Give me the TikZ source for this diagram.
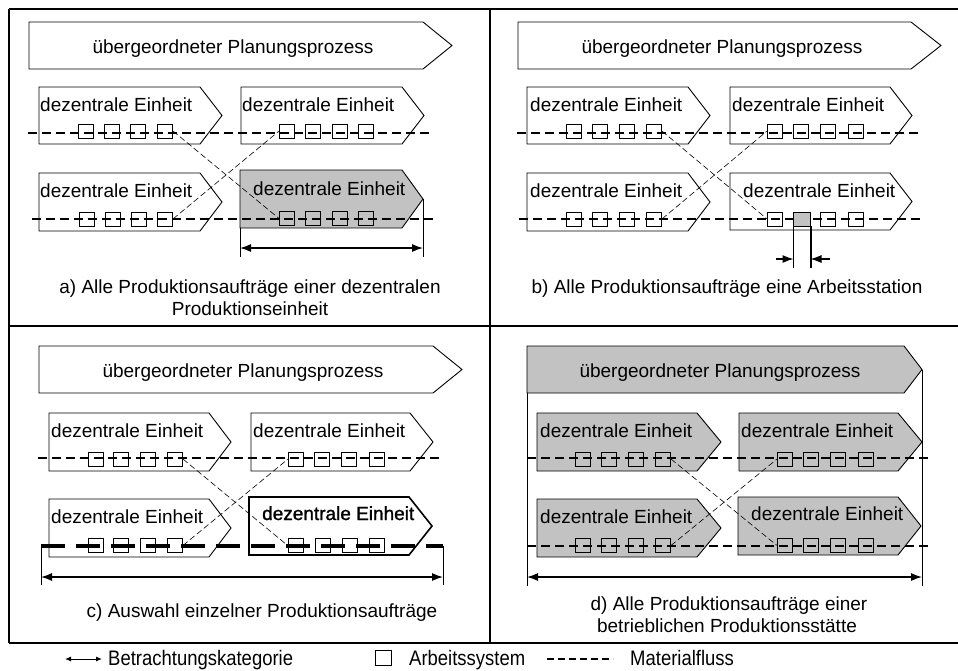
\documentclass[tikz,border=0pt]{standalone}
\usepackage{fontspec}
\setmainfont{Liberation Sans}
\newfontfamily\emphunit[FakeBold=1.3]{Liberation Sans}
\newfontfamily\legendfont[FakeStretch=0.88]{Liberation Sans}
\usetikzlibrary{arrows.meta}

\definecolor{unitgray}{gray}{0.76}

\tikzset{
  frameline/.style={line width=1.4pt},
  plate/.style={draw, line width=0.9pt, line join=miter},
  plateshaded/.style={plate, fill=unitgray},
  platebold/.style={plate, line width=1.6pt},
  sq/.style={draw, line width=0.9pt, minimum width=15pt, minimum height=14pt, inner sep=0pt, anchor=center},
  sqbold/.style={sq, line width=1.7pt},
  sqshaded/.style={sq, fill=unitgray, minimum width=17pt},
  mflow/.style={line width=1.3pt, dash pattern=on 9pt off 5pt},
  mflowbold/.style={line width=3.5pt, dash pattern=on 24pt off 11pt},
  xflow/.style={line width=0.6pt, dash pattern=on 6pt off 3pt},
  extline/.style={line width=0.9pt},
  dimarrow/.style={line width=1.2pt, {Latex[length=11pt,width=8pt]}-{Latex[length=11pt,width=8pt]}},
  tickarrow/.style={line width=1.2pt, -{Latex[length=11pt,width=8pt]}},
  lbl/.style={inner sep=0pt, anchor=base west, font=\fontsize{19pt}{22pt}\selectfont},
  ctr/.style={inner sep=0pt, anchor=base, font=\fontsize{19pt}{22pt}\selectfont},
  legendlbl/.style={inner sep=0pt, anchor=base west, font=\legendfont\fontsize{21pt}{24pt}\selectfont},
}

% process plate: style, left, top, body right, tip, bottom
\newcommand\plate[6]{\draw[#1] (#2,#3) -- (#4,#3) -- (#5,{(#3+#6)/2}) -- (#4,#6) -- (#2,#6) -- cycle;}

\begin{document}
\begin{tikzpicture}[x=1pt,y=-1pt]
\useasboundingbox (0,0) rectangle (958,670);

% ---------- frame ----------
\draw[frameline] (9,9) -- (962,9);
\draw[frameline] (9,9) -- (9,643);
\draw[frameline] (9,643) -- (962,643);
\draw[frameline] (490,9) -- (490,643);
\draw[frameline] (9,326) -- (962,326);

% ---------- a) ----------
\plate{plate}{29}{22}{423}{452}{69}
\node[ctr] (aTop) at (233,53) {übergeordneter Planungsprozess};
\plate{plate}{39}{87}{200}{222}{144}
\node[lbl] (aTLt) at (40,111) {dezentrale Einheit};
\plate{plate}{241}{87}{402}{424}{144}
\node[lbl] (aTRt) at (242,111) {dezentrale Einheit};
\plate{plate}{39}{173}{200}{222}{231}
\node[lbl] (aBLt) at (40,197) {dezentrale Einheit};
\plate{plateshaded}{240}{170}{402}{423}{228}
\node[lbl] (aBRt) at (253,195) {dezentrale Einheit};
\coordinate (aF1s) at (28,133); \coordinate (aF1e) at (432,133);
\coordinate (aF2s) at (32,219); \coordinate (aF2e) at (435,219);
\draw[mflow] (aF1s) -- (aF1e);
\draw[mflow] (aF2s) -- (aF2e);
\foreach \n/\x in {1/86,2/112,3/138,4/165} \node[sq] (aTL\n) at (\x,131) {};
\foreach \n/\x in {1/287,2/313,3/340,4/366} \node[sq] (aTR\n) at (\x,131) {};
\foreach \n/\x in {1/87,2/113,3/139,4/165} \node[sq] (aBL\n) at (\x,219) {};
\foreach \n/\x in {1/287,2/313,3/340,4/366} \node[sq] (aBR\n) at (\x,218.5) {};
\draw[xflow] (aTL4.east) -- (aBR1.west);
\draw[xflow] (aBL4.east) -- (aTR1.west);
\draw[extline] (240,228) -- (240,257);
\draw[extline] (423,199) -- (423,257);
\coordinate (aDl) at (240,248); \coordinate (aDr) at (423,248);
\draw[dimarrow] (aDl) -- (aDr);
\node[ctr] (aCap1) at (250,293) {a) Alle Produktionsaufträge einer dezentralen};
\node[ctr] (aCap2) at (250,315) {Produktionseinheit};

% ---------- b) ----------
\plate{plate}{518}{22}{911}{941}{69}
\node[ctr] (bTop) at (722,53) {übergeordneter Planungsprozess};
\plate{plate}{527}{87}{688}{710}{144}
\node[lbl] (bTLt) at (530,111) {dezentrale Einheit};
\plate{plate}{730}{87}{890}{912}{144}
\node[lbl] (bTRt) at (732,111) {dezentrale Einheit};
\plate{plate}{527}{173}{688}{710}{231}
\node[lbl] (bBLt) at (530,197) {dezentrale Einheit};
\plate{plate}{730}{173}{890}{912}{230}
\node[lbl] (bBRt) at (743,197) {dezentrale Einheit};
\coordinate (bF1s) at (517,133); \coordinate (bF1e) at (921,133);
\coordinate (bF2s) at (519,219); \coordinate (bF2e) at (923,219);
\draw[mflow] (bF1s) -- (bF1e);
\draw[mflow] (bF2s) -- (bF2e);
\foreach \n/\x in {1/574,2/600,3/627,4/654} \node[sq] (bTL\n) at (\x,131) {};
\foreach \n/\x in {1/775,2/801,3/828,4/856} \node[sq] (bTR\n) at (\x,131) {};
\foreach \n/\x in {1/574,2/600,3/627,4/654} \node[sq] (bBL\n) at (\x,219) {};
\node[sq] (bBR1) at (775,219) {};
\node[sqshaded] (bBR2) at (802,219) {};
\node[sq] (bBR3) at (828,219) {};
\node[sq] (bBR4) at (856,219) {};
\draw[xflow] (bTL4.east) -- (bBR1.west);
\draw[xflow] (bBL4.east) -- (bTR1.west);
\draw[extline] (bBR2.south west) -- ++(0,42);
\draw[extline, line width=1.5pt] (bBR2.south east) -- ++(0,42);
\coordinate (bAl) at (776,259); \coordinate (bAlt) at (793.5,259);
\coordinate (bAr) at (830,259); \coordinate (bArt) at (810.5,259);
\draw[tickarrow] (bAl) -- (bAlt);
\draw[tickarrow] (bAr) -- (bArt);
\node[ctr] (bCap) at (727,293) {b) Alle Produktionsaufträge eine Arbeitsstation};

% ---------- c) ----------
\plate{plate}{39}{346}{433}{462}{393}
\node[ctr] (cTop) at (243,377) {übergeordneter Planungsprozess};
\plate{plate}{49}{413}{209}{231}{471}
\node[lbl] (cTLt) at (51,437) {dezentrale Einheit};
\plate{plate}{251}{413}{410}{433}{471}
\node[lbl] (cTRt) at (253,437) {dezentrale Einheit};
\plate{plate}{49}{499}{209}{231}{557}
\node[lbl] (cBLt) at (51,523) {dezentrale Einheit};
\plate{platebold}{249}{497}{409}{432}{555}
\node[lbl, font=\emphunit\fontsize{19pt}{22pt}\selectfont] (cBRt) at (262,520) {dezentrale Einheit};
\coordinate (cF1s) at (38,458); \coordinate (cF1e) at (442,458);
\coordinate (cF2s) at (41,546); \coordinate (cF2e) at (443,546);
\draw[mflow] (cF1s) -- (cF1e);
\draw[mflowbold] (cF2s) -- (cF2e);
\foreach \n/\x in {1/96,2/121,3/148,4/175} \node[sq] (cTL\n) at (\x,459) {};
\foreach \n/\x in {1/296,2/322,3/349,4/377} \node[sq] (cTR\n) at (\x,459) {};
\foreach \n/\x in {1/96,2/121,3/148,4/175} \node[sq] (cBL\n) at (\x,545.5) {};
\foreach \n/\x in {1/296,2/323,3/350,4/377} \node[sqbold] (cBR\n) at (\x,545.5) {};
\draw[xflow] (cTL4.east) -- (cBR1.west);
\draw[xflow] (cBL4.east) -- (cTR1.west);
\draw[extline] (41,546) -- (41,585);
\draw[extline] (443,546) -- (443,585);
\coordinate (cDl) at (41,577); \coordinate (cDr) at (443,577);
\draw[dimarrow] (cDl) -- (cDr);
\node[ctr] (cCap) at (262,617) {c) Auswahl einzelner Produktionsaufträge};

% ---------- d) ----------
\plate{plateshaded}{527}{346}{904}{922}{393}
\node[ctr] (dTop) at (720,377) {übergeordneter Planungsprozess};
\plate{plateshaded}{537}{413}{697}{721}{471}
\node[lbl] (dTLt) at (540,437) {dezentrale Einheit};
\plate{plateshaded}{739}{413}{898}{922}{471}
\node[lbl] (dTRt) at (741,437) {dezentrale Einheit};
\plate{plateshaded}{537}{499}{697}{721}{557}
\node[lbl] (dBLt) at (540,523) {dezentrale Einheit};
\plate{plateshaded}{738}{497}{898}{921}{555}
\node[lbl] (dBRt) at (751,520) {dezentrale Einheit};
\coordinate (dF1s) at (527,458); \coordinate (dF1e) at (931,458);
\coordinate (dF2s) at (527,546); \coordinate (dF2e) at (931,546);
\draw[mflow] (dF1s) -- (dF1e);
\draw[mflow] (dF2s) -- (dF2e);
\foreach \n/\x in {1/583,2/609,3/636,4/663} \node[sq] (dTL\n) at (\x,459) {};
\foreach \n/\x in {1/785,2/811,3/838,4/866} \node[sq] (dTR\n) at (\x,459) {};
\foreach \n/\x in {1/583,2/609,3/636,4/663} \node[sq] (dBL\n) at (\x,545.5) {};
\foreach \n/\x in {1/785,2/811,3/838,4/866} \node[sq] (dBR\n) at (\x,545.5) {};
\draw[xflow] (dTL4.east) -- (dBR1.west);
\draw[xflow] (dBL4.east) -- (dTR1.west);
\draw[extline] (527,393) -- (527,586);
\draw[extline] (922,370) -- (922,586);
\coordinate (dDl) at (527,577); \coordinate (dDr) at (922,577);
\draw[dimarrow] (dDl) -- (dDr);
\node[ctr] (dCap1) at (729,610) {d) Alle Produktionsaufträge einer};
\node[ctr] (dCap2) at (727,632) {betrieblichen Produktionsstätte};

% ---------- legend ----------
\coordinate (lgAl) at (65,659); \coordinate (lgAr) at (102,659);
\draw[line width=1pt, {Latex[length=6pt,width=5pt]}-{Latex[length=6pt,width=5pt]}] (lgAl) -- (lgAr);
\node[legendlbl] (lgA) at (108,665) {Betrachtungskategorie};
\node[sq, minimum width=16pt, minimum height=15pt] (lgSq) at (383,658) {};
\node[legendlbl] (lgS) at (409,665) {Arbeitssystem};
\coordinate (lgFs) at (547,659); \coordinate (lgFe) at (613,659);
\draw[line width=1.2pt, dash pattern=on 7pt off 4pt] (lgFs) -- (lgFe);
\node[legendlbl] (lgF) at (630,665) {Materialfluss};
\end{tikzpicture}
\end{document}
